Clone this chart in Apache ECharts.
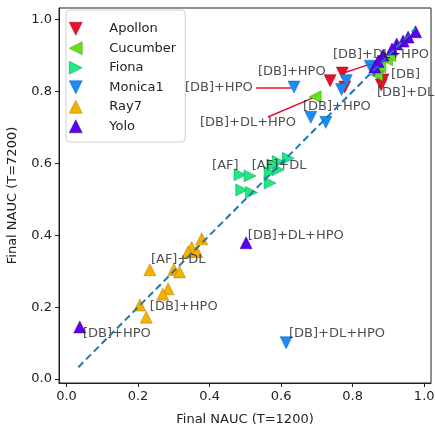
<!DOCTYPE html>
<html>
<head>
<meta charset="utf-8">
<script src="https://cdn.jsdelivr.net/npm/echarts@6/dist/echarts.min.js"></script>
<style>html,body{margin:0;padding:0;background:#fff;}#c{width:435px;height:426px;}</style>
</head>
<body>
<div id="c"></div>
<script>
const seriesNames = ['Apollon', 'Cucumber', 'Fiona', 'Monica1', 'Ray7', 'Yolo'];
const apollon = [[0.737,0.830],[0.771,0.851],[0.778,0.812],[0.885,0.832],[0.880,0.818],[0.886,0.883],[0.863,0.860],[0.873,0.845]];
const cucumber = [[0.695,0.785],[0.867,0.846],[0.895,0.888],[0.876,0.868],[0.904,0.899]];
const fiona = [[0.485,0.568],[0.513,0.565],[0.569,0.574],[0.592,0.582],[0.592,0.605],[0.620,0.614],[0.569,0.545],[0.490,0.526],[0.517,0.519],[0.577,0.596]];
const monica1 = [[0.636,0.812],[0.683,0.728],[0.725,0.714],[0.769,0.805],[0.782,0.830],[0.849,0.870],[0.614,0.101],[0.860,0.858]];
const ray7 = [[0.378,0.390],[0.350,0.366],[0.364,0.355],[0.340,0.354],[0.233,0.304],[0.300,0.305],[0.316,0.298],[0.284,0.251],[0.269,0.236],[0.205,0.206],[0.223,0.172]];
const yolo = [[0.037,0.145],[0.502,0.379],[0.976,0.966],[0.955,0.951],[0.941,0.940],[0.923,0.932],[0.910,0.918],[0.885,0.901],[0.871,0.883],[0.862,0.868]];
const diagonal = [[0.033,0.033],[0.975,0.975]];
const labelTexts = ['[DB]+DL+HPO','[DB]','[DB]+DL','[DB]+HPO','[DB]+HPO','[DB]+DL+HPO','[DB]+HPO','[AF]','[AF]+DL','[DB]+DL+HPO','[AF]+DL','[DB]+HPO','[DB]+HPO','[DB]+DL+HPO'];
const labelPos = [[0.745,0.901],[0.907,0.846],[0.868,0.798],[0.535,0.854],[0.331,0.810],[0.373,0.713],[0.661,0.757],[0.407,0.593],[0.518,0.593],[0.507,0.398],[0.236,0.331],[0.233,0.201],[0.046,0.126],[0.622,0.126]];
const leaderLines = [[[0.774,0.851],[0.849,0.876]],[[0.530,0.810],[0.628,0.810]],[[0.563,0.729],[0.689,0.782]]];
const xTicks = [0.0, 0.2, 0.4, 0.6, 0.8, 1.0];
const yTicks = [0.0, 0.2, 0.4, 0.6, 0.8, 1.0];

const seriesData = [apollon, cucumber, fiona, monica1, ray7, yolo];
const colors = ['#e8102c', '#66e01a', '#1fe884', '#1a8cf5', '#f5b000', '#5c00f0'];
const borders = ['#a00a1e', '#3f9a0f', '#119a55', '#0f5fae', '#b07d00', '#3a0099'];
const rotations = [180, 90, -90, 180, 0, 0];
const legendIcons = [
  'path://M0,0L2,0L1,2Z',
  'path://M2,0L2,2L0,1Z',
  'path://M0,0L2,1L0,2Z',
  'path://M0,0L2,0L1,2Z',
  'path://M1,0L2,2L0,2Z',
  'path://M1,0L2,2L0,2Z'
];

const FONT = 'DejaVu Sans';
const chart = echarts.init(document.getElementById('c'), null, {renderer: 'canvas'});

const scatterSeries = seriesNames.map((n, i) => ({
  name: n,
  type: 'scatter',
  data: seriesData[i],
  symbol: 'triangle',
  symbolSize: 12,
  symbolRotate: rotations[i],
  itemStyle: {color: colors[i], borderColor: borders[i], borderWidth: 0.5, opacity: 1},
  z: 3
}));

const option = {
  animation: false,
  backgroundColor: '#fff',
  grid: {left: 59, right: 4, top: 8, bottom: 43, containLabel: false, outerBoundsMode: 'none',
         show: true, borderColor: '#222', borderWidth: 1, backgroundColor: 'transparent'},
  legend: {
    data: seriesNames.map((n, i) => ({name: n, icon: legendIcons[i],
      itemStyle: {color: colors[i], borderColor: borders[i], borderWidth: 0.5}})),
    orient: 'vertical',
    left: 66, top: 10,
    padding: [12, 9, 9, 3],
    itemWidth: 13, itemHeight: 13, itemGap: 6,
    backgroundColor: '#fff', borderColor: '#d0d0d0', borderWidth: 1, borderRadius: 4,
    textStyle: {fontFamily: FONT, fontSize: 13, color: '#222', padding: [0, 0, 0, 22]},
    z: 10
  },
  xAxis: {
    type: 'value', min: -0.021, max: 1.019,
    name: 'Final NAUC (T=1200)', nameLocation: 'middle', nameGap: 30,
    nameTextStyle: {fontFamily: FONT, fontSize: 13, color: '#222'},
    splitLine: {show: false},
    axisLine: {show: true, onZero: false, lineStyle: {color: '#222'}},
    axisTick: {show: true, length: 4, customValues: xTicks, lineStyle: {color: '#222'}},
    axisLabel: {customValues: xTicks, formatter: v => v.toFixed(1), fontFamily: FONT, fontSize: 13, color: '#222', margin: 7}
  },
  yAxis: {
    type: 'value', min: -0.011, max: 1.032,
    name: 'Final NAUC (T=7200)', nameLocation: 'middle', nameGap: 40, nameRotate: 90,
    nameTextStyle: {fontFamily: FONT, fontSize: 13, color: '#222'},
    splitLine: {show: false},
    axisLine: {show: true, onZero: false, lineStyle: {color: '#222'}},
    axisTick: {show: true, length: 4, customValues: yTicks, lineStyle: {color: '#222'}},
    axisLabel: {customValues: yTicks, formatter: v => v.toFixed(1), fontFamily: FONT, fontSize: 13, color: '#222', margin: 7}
  },
  series: [
    ...scatterSeries,
    {
      type: 'lines', coordinateSystem: 'cartesian2d', silent: true,
      data: leaderLines.map(c => ({coords: c})),
      lineStyle: {color: '#e8102c', width: 1.5, opacity: 1},
      z: 2
    },
    {
      type: 'scatter', silent: true, symbolSize: 0,
      data: labelPos.map((p, i) => ({value: p, label: {formatter: labelTexts[i]}})),
      label: {show: true, position: 'right', distance: 0, fontFamily: FONT, fontSize: 13, color: '#222'},
      z: 4
    },
    {
      type: 'line', data: diagonal, symbol: 'none', silent: true,
      lineStyle: {color: '#1f77b4', width: 2, type: [7, 4]},
      z: 5
    }
  ]
};
chart.setOption(option);
</script>
</body>
</html>
